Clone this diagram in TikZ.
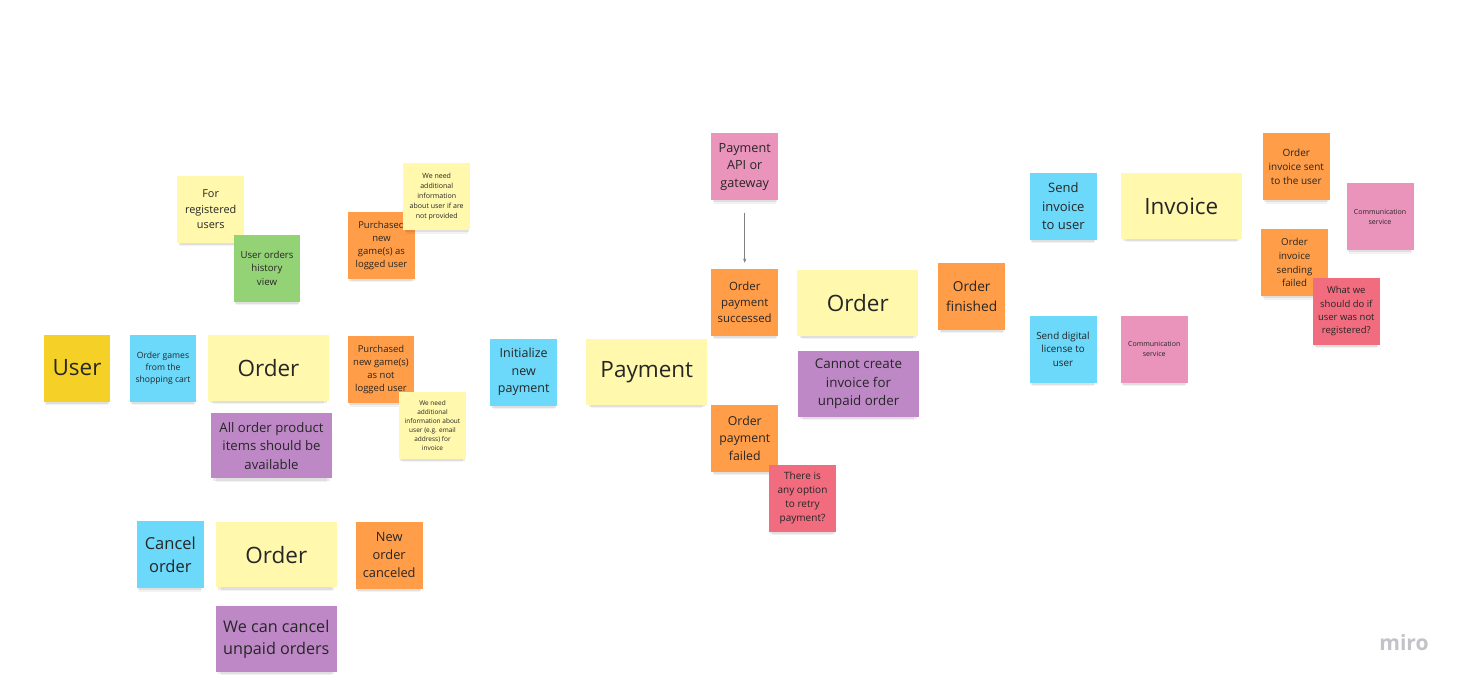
\documentclass[tikz,border=0pt]{standalone}
\usepackage{fontspec}
\setmainfont{Open Sans}
\usepackage{tikz}
\usetikzlibrary{arrows.meta}
\usetikzlibrary{shadows}
\definecolor{mr-ink}{HTML}{262626}
\definecolor{mr-yellow}{HTML}{F5D128}
\definecolor{mr-lyellow}{HTML}{FFF8AD}
\definecolor{mr-blue}{HTML}{6CD8FA}
\definecolor{mr-orange}{HTML}{FF9D48}
\definecolor{mr-violet}{HTML}{BE88C7}
\definecolor{mr-pink}{HTML}{EA94BB}
\definecolor{mr-red}{HTML}{F16C7F}
\definecolor{mr-green}{HTML}{93D275}
\definecolor{mr-logo}{HTML}{C3C3C7}
\newcommand{\fs}[2]{\fontsize{#1}{#2}\selectfont}

\begin{document}
\begin{tikzpicture}[
    x=0.02cm, y=-0.02cm,
    note/.style={text=mr-ink, align=center, inner sep=0pt, minimum width=1.34cm, minimum height=1.34cm,
        drop shadow={shadow xshift=0pt, shadow yshift=-0.13cm, shadow scale=0.92, opacity=0.05, fill=black},
        drop shadow={shadow xshift=0pt, shadow yshift=-0.07cm, shadow scale=0.96, opacity=0.08, fill=black}},
    wide/.style={note, minimum width=2.42cm, minimum height=1.31cm},
    actor/.style={note, fill=mr-yellow},
    cmd/.style={note, fill=mr-blue},
    evt/.style={note, fill=mr-orange},
    hint/.style={note, fill=mr-lyellow},
    ext/.style={note, fill=mr-pink},
    hot/.style={note, fill=mr-red},
    view/.style={note, fill=mr-green},
    agg/.style={wide, fill=mr-lyellow, font=\fs{12.8}{15}},
    policy/.style={wide, fill=mr-violet},
    link/.style={-{Latex[length=2.4pt, width=1.8pt]}, draw=gray, line width=0.4pt}
]
\fill[white] (0,0) rectangle (1461,684);
\useasboundingbox (0,0) rectangle (1461,684);

% =========================================================================
% ORDER: PLACE ORDER
% =========================================================================
\node[actor, font=\fs{12.8}{15}] (user) at (77,368) {User};
\node[cmd, font=\fs{4.9}{6.8}] (cart) at (163,368) {Order games\\from the\\shopping cart};
\node[agg] (order) at (268.5,368) {Order};
\node[policy, font=\fs{7.5}{10.6}] (available) at (271.5,445.7) {All order product\\items should be\\available};

\node[hint, font=\fs{6.2}{8.7}] (registered) at (210.7,209.3) {For\\registered\\users};
\node[view, font=\fs{5.5}{7.8}] (history) at (267,268.3) {User orders\\history\\view};

\node[evt, font=\fs{5.4}{7.5}] (boughtIn) at (381.5,245.3) {Purchased\\new\\game(s) as\\logged user};
\node[hint, font=\fs{4}{5.7}] (infoIn) at (436.7,196.7) {We need\\additional\\information\\about user if are\\not provided};

\node[evt, font=\fs{5.4}{7.5}] (boughtOut) at (381,369.7) {Purchased\\new game(s)\\as not\\logged user};
\node[hint, font=\fs{3.7}{5.2}] (infoOut) at (432.5,425.5) {We need\\additional\\information about\\user (e.g. email\\address) for\\invoice};

% =========================================================================
% PAYMENT
% =========================================================================
\node[cmd, font=\fs{7.1}{9.9}] (initPay) at (523.7,372) {Initialize\\new\\payment};
\node[agg] (payment) at (646.8,371.8) {Payment};

\node[ext, font=\fs{7.2}{10.1}] (gateway) at (744.7,166.8) {Payment\\API or\\gateway};
\node[evt, font=\fs{6.5}{9.1}] (paid) at (744.7,302.5) {Order\\payment\\successed};
\draw[link, shorten <=0.24cm, shorten >=0.11cm] (gateway) -- (paid);

\node[evt, font=\fs{7}{9.8}] (unpaid) at (744.8,438.3) {Order\\payment\\failed};
\node[hot, font=\fs{5.7}{7.9}] (retry) at (802.5,498) {There is\\any option\\to retry\\payment?};

% =========================================================================
% ORDER: FINISH
% =========================================================================
\node[agg] (orderPaid) at (857.8,303) {Order};
\node[policy, font=\fs{7.6}{10.7}] (noInvoice) at (858.5,383.8) {Cannot create\\invoice for\\unpaid order};
\node[evt, font=\fs{7.8}{10.9}] (finished) at (971.7,296.3) {Order\\finished};

% =========================================================================
% INVOICE AND LICENSE
% =========================================================================
\node[cmd, font=\fs{7.4}{10.4}] (sendInv) at (1063.3,206.3) {Send\\invoice\\to user};
\node[agg] (invoice) at (1181.3,206.2) {Invoice};
\node[evt, font=\fs{5.7}{7.9}] (invSent) at (1296.3,166.8) {Order\\invoice sent\\to the user};
\node[ext, font=\fs{4}{5.7}] (commInv) at (1380,216.7) {Communication\\service};
\node[evt, font=\fs{5.5}{7.8}] (invFailed) at (1294.5,262.8) {Order\\invoice\\sending\\failed};
\node[hot, font=\fs{5.4}{7.5}] (notReg) at (1346.3,311.2) {What we\\should do if\\user was not\\registered?};

\node[cmd, font=\fs{5.6}{7.8}] (sendLic) at (1063,349.3) {Send digital\\license to\\user};
\node[ext, font=\fs{4}{5.7}] (commLic) at (1154.2,349) {Communication\\service};

% =========================================================================
% ORDER: CANCEL
% =========================================================================
\node[cmd, font=\fs{9.4}{13}] (cancel) at (170.3,554.7) {Cancel\\order};
\node[agg] (orderCancel) at (276.3,554.7) {Order};
\node[evt, font=\fs{7.3}{10.2}] (canceled) at (389.2,555) {New\\order\\canceled};
\node[policy, font=\fs{9.2}{12.9}] (unpaidOnly) at (276.3,639.2) {We can cancel\\unpaid orders};

% watermark
\node[font=\bfseries\fs{12}{14}, text=mr-logo] (logo) at (1404,643) {miro};

\end{tikzpicture}
\end{document}
